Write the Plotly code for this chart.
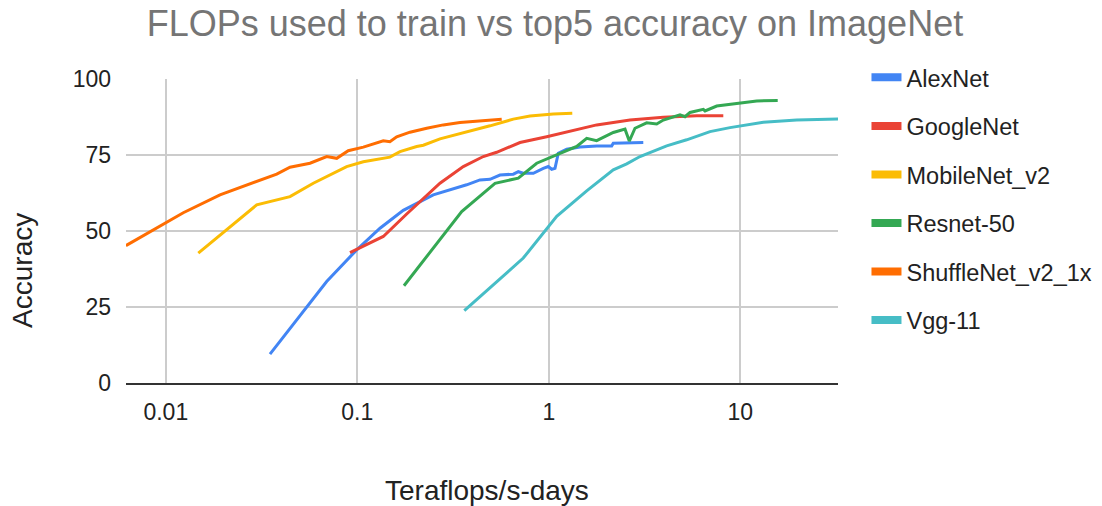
import plotly.graph_objects as go

# ---- data ----
series_names = ["AlexNet", "GoogleNet", "MobileNet_v2", "Resnet-50", "ShuffleNet_v2_1x", "Vgg-11"]
series_colors = ["#4285F4", "#EA4335", "#FBBC04", "#34A853", "#FF6D01", "#46BDC6"]

alexnet_x = [0.0350, 0.0692, 0.0993, 0.1314, 0.1738, 0.2493, 0.3725, 0.4371, 0.4932, 0.5560,
             0.6526, 0.6931, 0.7358, 0.8301, 0.9361, 0.9940, 1.0354, 1.0775, 1.1210, 1.2404,
             1.4553, 1.7788, 2.1305, 2.1718, 3.115]
alexnet_y = [9.5, 33.4, 43.8, 50.9, 56.8, 61.9, 65.2, 66.8, 67.0, 68.4,
             68.7, 69.5, 69.0, 69.0, 70.6, 71.2, 70.3, 70.6, 75.6, 76.9,
             77.6, 78.0, 78.0, 78.9, 79.1]

googlenet_x = [0.0916, 0.1367, 0.1811, 0.2703, 0.3577, 0.455, 0.5344, 0.7073, 0.975, 1.290,
               1.7788, 2.655, 3.962, 5.92, 8.152]
googlenet_y = [42.9, 48.2, 55.6, 65.7, 71.2, 74.5, 75.9, 79.1, 81.0, 82.7,
               84.9, 86.5, 87.4, 87.9, 87.9]

mobilenet_x = [0.01478, 0.02983, 0.04453, 0.05891, 0.0880, 0.1075, 0.148, 0.1671, 0.2042, 0.2212,
               0.2703, 0.3304, 0.4034, 0.4932, 0.6526, 0.7977, 1.0556, 1.3264]
mobilenet_y = [42.7, 58.6, 61.3, 65.7, 71.2, 72.8, 74.3, 76.1, 77.8, 78.2,
               80.3, 81.7, 83.2, 84.6, 86.8, 87.8, 88.5, 88.7]

resnet_x = [0.1753, 0.3509, 0.5238, 0.6931, 0.8646, 1.0998, 1.3988, 1.5773, 1.7788, 2.1718,
            2.500, 2.633, 2.819, 3.245, 3.660, 3.962, 4.843, 5.143, 5.463, 6.411,
            6.543, 7.532, 9.96, 12.18, 15.68]
resnet_y = [32.0, 56.4, 65.7, 67.4, 72.3, 75.0, 77.8, 80.5, 79.7, 82.4,
            83.5, 79.6, 83.8, 85.6, 85.2, 86.5, 88.2, 87.6, 89.0, 90.0,
            89.5, 91.1, 92.2, 92.8, 92.9]

shufflenet_x = [0.00619, 0.01234, 0.01919, 0.02983, 0.03795, 0.04453, 0.05663, 0.06922, 0.0781, 0.0897,
                0.1075, 0.1367, 0.148, 0.1606, 0.1884, 0.2304, 0.2812, 0.3438, 0.4371, 0.5677]
shufflenet_y = [45.2, 56.0, 61.9, 66.3, 68.7, 71.0, 72.3, 74.5, 73.9, 76.4,
                77.6, 79.7, 79.4, 81.0, 82.5, 83.8, 84.9, 85.7, 86.2, 86.8]

vgg_x = [0.3620, 0.7358, 1.0998, 1.5773, 2.1718, 2.552, 2.994, 4.127, 5.249, 6.947,
         8.835, 10.80, 13.19, 19.70, 33.2]
vgg_y = [23.8, 41.1, 54.8, 63.2, 70.1, 72.1, 74.5, 78.0, 80.0, 82.7,
         84.0, 84.9, 85.8, 86.5, 86.9]

x_tick_vals = [0.01, 0.1, 1, 10]
x_tick_text = ["0.01", "0.1", "1", "10"]
y_tick_vals = [0, 25, 50, 75, 100]

chart_title = "FLOPs used to train vs top5 accuracy on ImageNet"
x_title = "Teraflops/s-days"
y_title = "Accuracy"

all_x = [alexnet_x, googlenet_x, mobilenet_x, resnet_x, shufflenet_x, vgg_x]
all_y = [alexnet_y, googlenet_y, mobilenet_y, resnet_y, shufflenet_y, vgg_y]

FONT = "Arial, Liberation Sans, sans-serif"

fig = go.Figure()
for name, color, xs, ys in zip(series_names, series_colors, all_x, all_y):
    fig.add_trace(go.Scatter(x=xs, y=ys, mode="lines", name=name,
                             line=dict(color=color, width=3),
                             showlegend=False, hoverinfo="x+y+name"))
# legend entries with thicker swatches
for name, color in zip(series_names, series_colors):
    fig.add_trace(go.Scatter(x=[None], y=[None], mode="lines", name=name,
                             legendgroup=name,
                             line=dict(color=color, width=8), showlegend=True))

fig.update_layout(
    width=1102, height=506,
    margin=dict(l=126, r=264, t=79, b=123, autoexpand=False),
    paper_bgcolor="white", plot_bgcolor="white",
    font=dict(family=FONT, size=22, color="#222222"),
    title=dict(text=chart_title, x=0.5036, xanchor="center", y=0.954, yanchor="middle",
               font=dict(family=FONT, size=36, color="#757575")),
    showlegend=True,
    legend=dict(x=1.040, xanchor="left", y=1.077, yanchor="top",
                font=dict(family=FONT, size=23.5, color="#222222"),
                traceorder="grouped", tracegroupgap=15, maxheight=1,
                bgcolor="rgba(0,0,0,0)", itemwidth=30),
    annotations=[
        dict(text=x_title, xref="paper", yref="paper", x=0.5066, y=-0.352,
             xanchor="center", yanchor="middle", showarrow=False,
             font=dict(family=FONT, size=28, color="#222222")),
        dict(text=y_title, xref="paper", yref="paper", x=-0.1447, y=0.372,
             xanchor="center", yanchor="middle", showarrow=False, textangle=-90,
             font=dict(family=FONT, size=28, color="#222222")),
    ],
)

fig.update_xaxes(type="log", range=[-2.2078, 1.5102],
                 tickvals=x_tick_vals, ticktext=x_tick_text,
                 showgrid=True, gridcolor="#cccccc", gridwidth=1.5,
                 showline=True, linecolor="#333333", linewidth=2,
                 ticks="", ticklabelstandoff=7, zeroline=False,
                 tickfont=dict(family=FONT, size=23, color="#222222"))
fig.update_yaxes(range=[0, 100], tickvals=y_tick_vals,
                 showgrid=True, gridcolor="#cccccc", gridwidth=1.5,
                 showline=False, zeroline=False, ticks="",
                 ticklabelstandoff=14,
                 tickfont=dict(family=FONT, size=23, color="#222222"))

fig.write_html("out.html", config={"displayModeBar": False},
               post_script="document.body.style.margin='0';document.body.style.overflow='hidden';")
